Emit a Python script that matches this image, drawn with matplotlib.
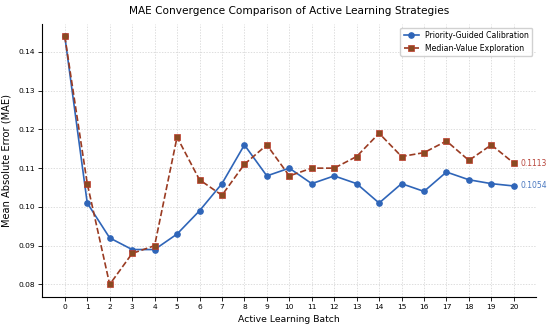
import numpy as np
import matplotlib
matplotlib.use('Agg')
from matplotlib import pyplot as plt

# batches 0..20
batches = list(range(21))
priority_mae = [0.144, 0.101, 0.092, 0.089, 0.089, 0.093, 0.099, 0.106, 0.116, 0.108, 0.110,
                0.106, 0.108, 0.106, 0.101, 0.106, 0.104, 0.109, 0.107, 0.106, 0.1054]
median_mae = [0.144, 0.106, 0.080, 0.088, 0.090, 0.118, 0.107, 0.103, 0.111, 0.116, 0.108,
              0.110, 0.110, 0.113, 0.119, 0.113, 0.114, 0.117, 0.112, 0.116, 0.1113]
series_names = ['Priority-Guided Calibration', 'Median-Value Exploration']

blue = '#2f65b8'
brown = '#9a3b22'

fig, ax = plt.subplots(figsize=(5.5, 3.28), dpi=100)
fig.subplots_adjust(left=0.077, right=0.975, top=0.927, bottom=0.095)

ax.plot(batches, priority_mae, color=blue, marker='o', markersize=3.8, linewidth=1.2,
        label=series_names[0])
ax.plot(batches, median_mae, color=brown, marker='s', markersize=3.8, linewidth=1.2,
        linestyle='--', markerfacecolor='#8a4a22', markeredgecolor='#c0392b',
        markeredgewidth=0.5, label=series_names[1])

# final values next to the last points
ax.annotate(f'{median_mae[-1]:.4f}', (batches[-1], median_mae[-1]), xytext=(5, 0),
            textcoords='offset points', va='center', fontsize=5.5, color='#b8443a')
ax.annotate(f'{priority_mae[-1]:.4f}', (batches[-1], priority_mae[-1]), xytext=(5, 0),
            textcoords='offset points', va='center', fontsize=5.5, color='#4a78c0')

ax.set_title('MAE Convergence Comparison of Active Learning Strategies', fontsize=7.6, pad=7)
ax.set_xlabel('Active Learning Batch', fontsize=6.7, labelpad=3)
ax.set_ylabel('Mean Absolute Error (MAE)', fontsize=7.1, labelpad=5)
ax.set_xticks(batches)
ax.tick_params(labelsize=5.4, length=3, width=0.6, pad=2.5)
ax.set_yticks([0.08, 0.09, 0.10, 0.11, 0.12, 0.13, 0.14])
ax.grid(True, linestyle=(0, (2, 2)), linewidth=0.5, color='#d0d0d0')
ax.spines['top'].set_visible(False)
ax.spines['right'].set_visible(False)
for s in ['left', 'bottom']:
    ax.spines[s].set_linewidth(0.8)
ax.legend(fontsize=5.6, loc='upper right', frameon=True, framealpha=0.9)

plt.savefig('out.png', dpi=100)
